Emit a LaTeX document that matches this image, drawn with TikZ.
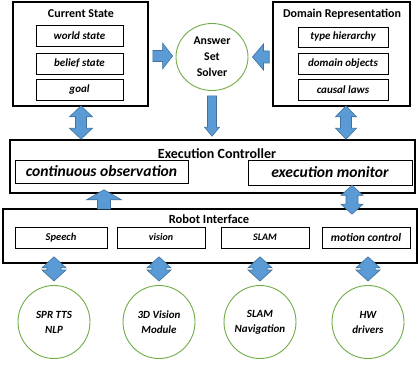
\documentclass[tikz,border=0pt]{standalone}
\usepackage{fontspec}
\setmainfont{Carlito}
\usetikzlibrary{calc,shapes.geometric,shadows}
\definecolor{ablue}{HTML}{5B9BD5}
\definecolor{aedge}{HTML}{41719C}
\definecolor{cgreen}{HTML}{70AD47}
\newcommand\fatsingle[5]{%
 \draw[blk] let \p1=(#1),\p2=(#2),\n1={veclen(\x2-\x1,\y2-\y1)},\n2={(\x2-\x1)/\n1},\n3={(\y2-\y1)/\n1},\n4={\n1-(#5)} in
 ({\x1-(#4)*\n3*1pt},{\y1+(#4)*\n2*1pt})
 -- ({\x1+(\n4*\n2-(#4)*\n3)*1pt},{\y1+(\n4*\n3+(#4)*\n2)*1pt})
 -- ({\x1+(\n4*\n2-(#3)*\n3)*1pt},{\y1+(\n4*\n3+(#3)*\n2)*1pt})
 -- (\x2,\y2)
 -- ({\x1+(\n4*\n2+(#3)*\n3)*1pt},{\y1+(\n4*\n3-(#3)*\n2)*1pt})
 -- ({\x1+(\n4*\n2+(#4)*\n3)*1pt},{\y1+(\n4*\n3-(#4)*\n2)*1pt})
 -- ({\x1+(#4)*\n3*1pt},{\y1-(#4)*\n2*1pt})
 -- cycle;}
\newcommand\fatdouble[5]{%
 \draw[blk] let \p1=(#1),\p2=(#2),\n1={veclen(\x2-\x1,\y2-\y1)},\n2={(\x2-\x1)/\n1},\n3={(\y2-\y1)/\n1},\n4={\n1-(#5)},\n5={#5} in
 (\x1,\y1)
 -- ({\x1+(\n5*\n2-(#3)*\n3)*1pt},{\y1+(\n5*\n3+(#3)*\n2)*1pt})
 -- ({\x1+(\n5*\n2-(#4)*\n3)*1pt},{\y1+(\n5*\n3+(#4)*\n2)*1pt})
 -- ({\x1+(\n4*\n2-(#4)*\n3)*1pt},{\y1+(\n4*\n3+(#4)*\n2)*1pt})
 -- ({\x1+(\n4*\n2-(#3)*\n3)*1pt},{\y1+(\n4*\n3+(#3)*\n2)*1pt})
 -- (\x2,\y2)
 -- ({\x1+(\n4*\n2+(#3)*\n3)*1pt},{\y1+(\n4*\n3-(#3)*\n2)*1pt})
 -- ({\x1+(\n4*\n2+(#4)*\n3)*1pt},{\y1+(\n4*\n3-(#4)*\n2)*1pt})
 -- ({\x1+(\n5*\n2+(#4)*\n3)*1pt},{\y1+(\n5*\n3-(#4)*\n2)*1pt})
 -- ({\x1+(\n5*\n2+(#3)*\n3)*1pt},{\y1+(\n5*\n3-(#3)*\n2)*1pt})
 -- cycle;}
\newcommand\fsz[1]{\fontsize{#1}{#1}\selectfont}
\begin{document}
\begin{tikzpicture}[x=1pt,y=-1pt,
  outer/.style={draw,line width=1.6pt,inner sep=0pt},
  title/.style={font=\bfseries\fsz{12},inner sep=0pt},
  inbox/.style={draw,line width=0.7pt,fill=white,inner sep=0pt,
     drop shadow={shadow xshift=1.3pt,shadow yshift=-1.3pt,fill=black!40,opacity=1},
     font=\bfseries\itshape\fsz{11}},
  bigbox/.style={inbox,font=\bfseries\itshape\fsz{15.6}},
  circ/.style={ellipse,draw=cgreen,line width=0.9pt,inner sep=0pt,align=center,
     minimum width=72pt,minimum height=73pt,
     font=\bfseries\itshape\fontsize{11}{15}\selectfont},
  blk/.style={fill=ablue,draw=aedge,line width=0.6pt}]
\useasboundingbox (0,0) rectangle (418,366);
% Current State
\node[outer,minimum width=135pt,minimum height=104pt] (cs) at (80.5,54) {};
\node[title] (cst) at (81,14) {Current State};
\node[inbox,minimum width=87pt,minimum height=21pt] (ws) at (79.5,35.5) {world state};
\node[inbox,minimum width=87pt,minimum height=21pt] (bs) at (79.5,63.5) {belief state};
\node[inbox,minimum width=87pt,minimum height=21pt] (go) at (79.5,89.5) {goal};
% Domain Representation
\node[outer,minimum width=137pt,minimum height=104pt] (dr) at (341.5,54) {};
\node[title] (drt) at (342,14) {Domain Representation};
\node[inbox,minimum width=90pt,minimum height=20pt] (th) at (343,37) {type hierarchy};
\node[inbox,minimum width=90pt,minimum height=21pt] (dob) at (343,63.5) {domain objects};
\node[inbox,minimum width=90pt,minimum height=21pt] (cl) at (343,89.5) {causal laws};
% Solver
\node[ellipse,draw=cgreen,line width=0.9pt,inner sep=0pt,align=center,
  minimum width=72pt,minimum height=67pt,
  font=\bfseries\fontsize{11.8}{16}\selectfont] (sol) at (212,57) {Answer\\Set\\Solver};
% Execution Controller
\node[outer,minimum width=405pt,minimum height=53pt] (ec) at (212.5,166.5) {};
\node[title,font=\bfseries\fsz{14}] (ect) at (217,154) {Execution Controller};
\node[bigbox,minimum width=173pt,minimum height=23pt] (co) at (101.5,171.5) {continuous observation};
\node[bigbox,minimum width=164pt,minimum height=25pt] (em) at (330,172.5) {execution monitor};
% Robot Interface
\node[outer,minimum width=414pt,minimum height=54pt] (ri) at (210,236) {};
\node[title,font=\bfseries\fsz{12.5}] (rit) at (209,219.5) {Robot Interface};
\node[inbox,minimum width=92pt,minimum height=21pt,font=\bfseries\itshape\fsz{10.5}] (sp) at (61,237.5) {Speech};
\node[inbox,minimum width=88pt,minimum height=21pt,font=\bfseries\itshape\fsz{10}] (vi) at (161,237.5) {vision};
\node[inbox,minimum width=88pt,minimum height=21pt,font=\bfseries\itshape\fsz{10}] (sl) at (265,237.5) {SLAM};
\node[inbox,minimum width=88pt,minimum height=21pt,font=\bfseries\itshape\fsz{11.5}] (mc) at (366,237.5) {motion control};
% bottom modules
\node[circ] (c1) at (54,322) {SPR TTS\\NLP};
\node[circ] (c2) at (159,322) {3D Vision\\Module};
\node[circ] (c3) at (260,322) {SLAM\\Navigation};
\node[circ] (c4) at (368,322) {HW\\drivers};
% arrow end points
\coordinate (a1s) at ($(cs.south)+(0.5,-1)$);
\coordinate (a1e) at (a1s |- ec.north);
\coordinate (a2s) at ($(dr.south)+(4.5,-1)$);
\coordinate (a2e) at (a2s |- ec.north);
\coordinate (a3s) at ($(cs.east)+(4,2)$);
\coordinate (a3e) at ($(sol.west)+(-3,-1)$);
\coordinate (a4s) at ($(dr.west)+(-3,3)$);
\coordinate (a4e) at ($(sol.east)+(4,0)$);
\coordinate (a5s) at ($(sol.south)+(0,5)$);
\coordinate (a5e) at ($(sol.south |- ec.north)+(0,-3)$);
\coordinate (a6s) at ($(co.south |- ri.north)+(2.5,1)$);
\coordinate (a6e) at ($(co.south |- ec.south)+(2.5,-4)$);
\coordinate (a7s) at ($(em.south)+(22,0)$);
\coordinate (a7e) at ($(a7s |- ri.north)+(0,6)$);
\foreach \c in {c1,c2,c3,c4}{
  \coordinate (\c s) at ($(\c.north |- ri.south)+(0,-7)$);
  \coordinate (\c e) at ($(\c.north)+(0,-4)$);
}
% block arrows
\fatdouble{a1s}{a1e}{11.5}{5.5}{11}
\fatdouble{a2s}{a2e}{10.5}{5.5}{11}
\fatsingle{a3s}{a3e}{13}{5.5}{10}
\fatsingle{a4s}{a4e}{13}{6}{11}
\fatsingle{a5s}{a5e}{7.5}{4.5}{9}
\fatsingle{a6s}{a6e}{17.5}{6.5}{10}
\fatdouble{a7s}{a7e}{11}{6}{10}
\foreach \c in {c1,c2,c3,c4}{
  \fatdouble{\c s}{\c e}{12}{7}{11}
}
\end{tikzpicture}
\end{document}
